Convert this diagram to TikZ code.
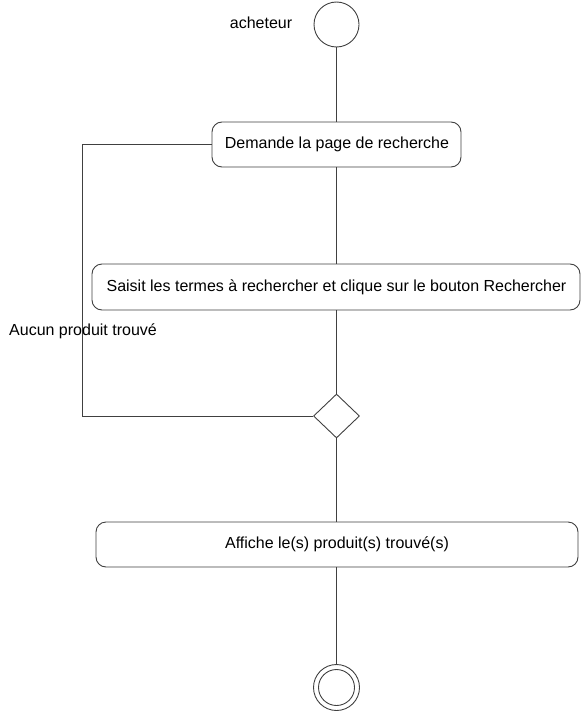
\documentclass[tikz,border=0pt]{standalone}
\usepackage{fontspec}
\setmainfont{Liberation Sans}
\usetikzlibrary{shapes.geometric}
\begin{document}
\begin{tikzpicture}[x=1pt,y=-1pt,
  line/.style={draw=black!75, line width=0.9pt},
  actbox/.style={line, rounded corners=10pt, fill=white},
  txt/.style={font=\fontsize{16}{19}\selectfont, inner sep=0pt},
]
\useasboundingbox (0,0) rectangle (583,712);
% nodes
\node[line, circle, minimum size=45pt, inner sep=0pt] (start) at (336.5,24.5) {};
\node[txt] (actor) at (261,23) {acheteur};
\draw[actbox] (212,122) rectangle (461,167);
\node[txt] (b1) at (337,144.5) {Demande la page de recherche};
\draw[actbox] (92,264) rectangle (580,310);
\node[txt] (b2) at (336.5,287) {Saisit les termes à rechercher et clique sur le bouton Rechercher};
\node[line, diamond, minimum width=46pt, minimum height=44pt, inner sep=0pt] (dec) at (336.5,416) {};
\draw[actbox] (96,522) rectangle (578,567);
\node[txt] (b3) at (337,544.5) {Affiche le(s) produit(s) trouvé(s)};
\node[line, circle, minimum size=46pt, inner sep=0pt] (end) at (336.5,687.5) {};
\node[line, circle, minimum size=36pt, inner sep=0pt] (endin) at (336.5,687.5) {};
% connectors
\coordinate (b1t) at (336.5,122);
\coordinate (b1b) at (336.5,167);
\coordinate (b1l) at (212,144.5);
\coordinate (b2t) at (336.5,264);
\coordinate (b2b) at (336.5,310);
\coordinate (b3t) at (336.5,522);
\coordinate (b3b) at (336.5,567);
\draw[line] (start.south) -- (b1t);
\draw[line] (b1b) -- (b2t);
\draw[line] (b2b) -- (dec.north);
\draw[line] (dec.south) -- (b3t);
\draw[line] (b3b) -- (end.north);
\draw[line] (dec.west) -- (82,416) -- (82,144.5) -- (b1l);
\node[txt, anchor=west] (lbl) at (9,331) {Aucun produit trouvé};
\end{tikzpicture}
\end{document}
